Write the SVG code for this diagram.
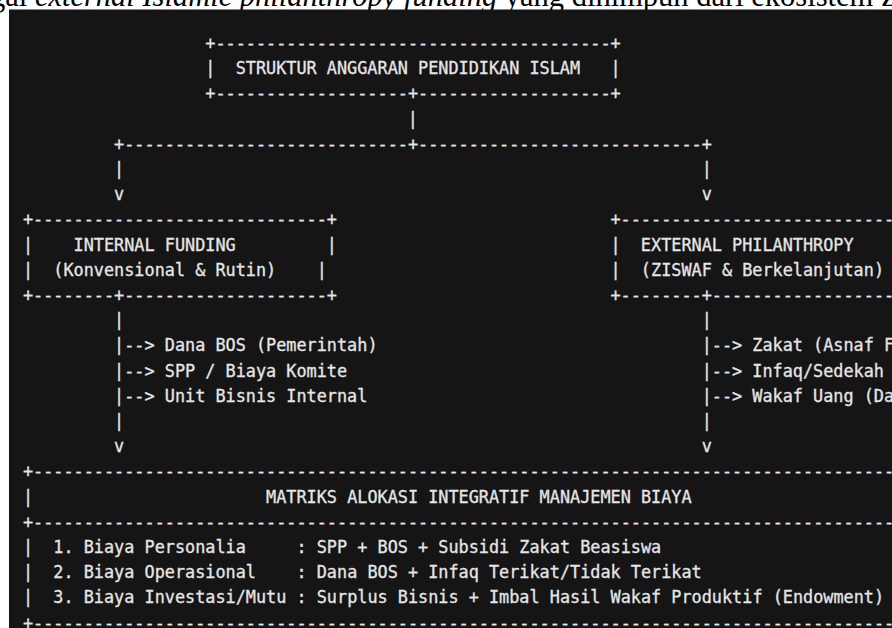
<svg xmlns="http://www.w3.org/2000/svg" width="892" height="628" viewBox="0 0 892 628" xml:space="preserve">
<style>
.m{font-family:"DejaVu Sans Mono","Liberation Mono",monospace;font-size:16.83px;fill:#e6e6e6;stroke:#e6e6e6;stroke-width:0.3px;white-space:pre}
.cap{font-family:"Liberation Serif","Times New Roman",serif;font-size:30.5px;fill:#000}
</style>
<rect x="0" y="0" width="892" height="628" fill="#ffffff"/>
<text class="cap" x="-10" y="6">gai <tspan font-style="italic">external Islamic philanthropy funding</tspan> yang dihimpun dari ekosistem ZI</text>
<rect x="9" y="9.5" width="883" height="618.5" fill="#151515"/>

<g id="root-box">
<text class="m" x="205.27" y="49">+---------------------------------------+</text>
<text class="m" x="205.27" y="74.2">|  STRUKTUR ANGGARAN PENDIDIKAN ISLAM   |</text>
<text class="m" x="205.27" y="99.4">+-------------------+-------------------+</text>
</g>

<g id="connectors">
<text class="m" x="407.87" y="124.6">|</text>
<text class="m" x="114.1" y="149.8">+----------------------------+----------------------------+</text>
<text class="m" x="114.1" y="175">|</text>
<text class="m" x="701.64" y="175">|</text>
<text class="m" x="114.1" y="200.2">v</text>
<text class="m" x="701.64" y="200.2">v</text>
<text class="m" x="114.1" y="326.2">|</text>
<text class="m" x="114.1" y="427">|</text>
<text class="m" x="114.1" y="452.2">v</text>
<text class="m" x="701.64" y="326.2">|</text>
<text class="m" x="701.64" y="427">|</text>
<text class="m" x="701.64" y="452.2">v</text>
</g>

<g id="internal-funding">
<text class="m" x="22.93" y="225.4">+-----------------------------+</text>
<text class="m" x="22.93" y="250.6">|    INTERNAL FUNDING         |</text>
<text class="m" x="22.93" y="275.8">|  (Konvensional &amp; Rutin)    |</text>
<text class="m" x="22.93" y="301">+--------+--------------------+</text>
</g>

<g id="external-philanthropy">
<text class="m" x="610.47" y="225.4">+----------------------------</text>
<text class="m" x="610.47" y="250.6">|  EXTERNAL PHILANTHROPY</text>
<text class="m" x="610.47" y="275.8">|  (ZISWAF &amp; Berkelanjutan)</text>
<text class="m" x="610.47" y="301">+--------+-------------------</text>
</g>

<g id="internal-sources">
<text class="m" x="114.1" y="351.4">|--&gt; Dana BOS (Pemerintah)</text>
<text class="m" x="114.1" y="376.6">|--&gt; SPP / Biaya Komite</text>
<text class="m" x="114.1" y="401.8">|--&gt; Unit Bisnis Internal</text>
</g>

<g id="external-sources">
<text class="m" x="701.64" y="351.4">|--&gt; Zakat (Asnaf F</text>
<text class="m" x="701.64" y="376.6">|--&gt; Infaq/Sedekah</text>
<text class="m" x="701.64" y="401.8">|--&gt; Wakaf Uang (Da</text>
</g>

<g id="allocation-matrix">
<text class="m" x="22.93" y="477.4">+--------------------------------------------------------------------------------------</text>
<text class="m" x="22.93" y="502.6">|                       MATRIKS ALOKASI INTEGRATIF MANAJEMEN BIAYA</text>
<text class="m" x="22.93" y="527.8">+--------------------------------------------------------------------------------------</text>
<text class="m" x="22.93" y="553">|  1. Biaya Personalia     : SPP + BOS + Subsidi Zakat Beasiswa</text>
<text class="m" x="22.93" y="578.2">|  2. Biaya Operasional    : Dana BOS + Infaq Terikat/Tidak Terikat</text>
<text class="m" x="22.93" y="603.4">|  3. Biaya Investasi/Mutu : Surplus Bisnis + Imbal Hasil Wakaf Produktif (Endowment)</text>
<text class="m" x="22.93" y="628.6">+--------------------------------------------------------------------------------------</text>
</g>
</svg>
